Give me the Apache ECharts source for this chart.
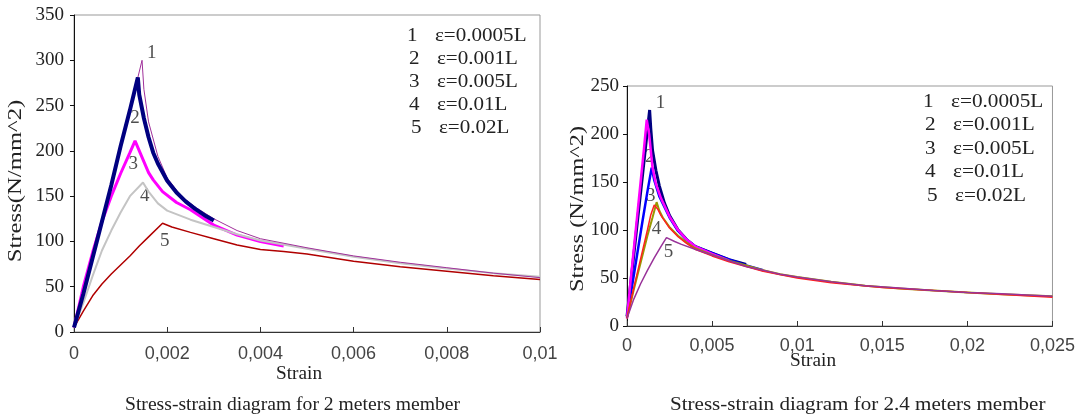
<!DOCTYPE html>
<html><head><meta charset="utf-8">
<script src="https://cdn.jsdelivr.net/npm/echarts@6/dist/echarts.min.js"></script>
<style>html,body{margin:0;padding:0;background:#fff}#c{width:1078px;height:419px}</style>
</head><body><div id="c"></div>
<script>
// ---------- data: left chart (2 m member) ----------
const curveNames = ['1','2','3','4','5'];
const legendLabels = ['ε=0.0005L','ε=0.001L','ε=0.005L','ε=0.01L','ε=0.02L'];
const L1 = [[0,5],[0.0003,62],[0.0006,122],[0.0009,182],[0.0012,245],[0.00146,300],[0.0015,268],[0.0016,232],[0.0018,194],[0.002,170],[0.0023,150],[0.0026,138],[0.003,125],[0.0035,112],[0.004,103],[0.005,93],[0.006,84],[0.007,77],[0.008,71],[0.009,65],[0.01,60]];
const L2 = [[0,5],[0.0002,42],[0.0004,82],[0.0006,122],[0.0008,162],[0.001,205],[0.0012,245],[0.00137,281],[0.0014,262],[0.0015,236],[0.0016,215],[0.0017,198],[0.0018,186],[0.002,167],[0.0022,154],[0.0024,144],[0.0026,136],[0.0028,129],[0.003,123]];
const L3 = [[0,5],[0.0002,50],[0.0004,88],[0.0006,122],[0.0008,150],[0.001,175],[0.0012,198],[0.00131,211],[0.0016,176],[0.0017,168],[0.0019,155],[0.0022,143],[0.0025,135],[0.003,118],[0.0035,107],[0.004,100],[0.0045,95]];
const L4 = [[0,5],[0.0002,32],[0.0004,62],[0.0006,90],[0.0008,112],[0.001,132],[0.0012,150],[0.00148,165],[0.0016,155],[0.0018,142],[0.002,134],[0.0025,124],[0.003,116],[0.0035,108],[0.004,101],[0.005,92],[0.006,83],[0.007,76],[0.008,70],[0.009,65],[0.01,61]];
const L5 = [[0,5],[0.0002,23],[0.0004,40],[0.0006,53],[0.0008,64],[0.001,74],[0.0012,84],[0.0014,95],[0.0016,105],[0.0019,120],[0.0021,116],[0.0025,110],[0.003,103],[0.0035,96],[0.004,91],[0.0045,89],[0.005,86],[0.006,78],[0.007,72],[0.008,67],[0.009,62],[0.01,58]];
const leftLabelPts = [[0.00167,308],[0.00131,236],[0.00127,185],[0.00152,150],[0.00195,101]];

// ---------- data: right chart (2.4 m member) ----------
const R1 = [[0,10],[0.0003,58],[0.0006,107],[0.0009,155],[0.0011,188],[0.00133,225],[0.0014,205],[0.0015,183],[0.0017,162],[0.0019,146],[0.0022,128],[0.0025,115],[0.003,100],[0.0035,90],[0.004,83],[0.005,76],[0.006,69],[0.007,64]];
const R2 = [[0,8],[0.0002,45],[0.0004,80],[0.0006,115],[0.0008,150],[0.001,185],[0.00116,215],[0.0013,200],[0.0015,165],[0.0017,148],[0.002,133],[0.0025,114],[0.003,100],[0.0035,90],[0.004,83],[0.005,75],[0.006,68]];
const R3 = [[0,10],[0.0003,42],[0.0006,75],[0.0009,108],[0.0012,140],[0.00145,165],[0.0016,152],[0.0019,135],[0.0022,124],[0.0025,113],[0.003,99],[0.0035,90],[0.004,83],[0.005,76],[0.006,69],[0.007,63],[0.008,58]];
const R4 = [[0,8],[0.0004,38],[0.0008,66],[0.0012,94],[0.0015,113],[0.00174,129],[0.0019,120],[0.0021,113],[0.0025,103],[0.003,94],[0.0035,87],[0.004,81],[0.005,74],[0.006,68],[0.007,63],[0.008,58],[0.009,54],[0.01,51],[0.012,46],[0.014,42],[0.016,39],[0.018,37],[0.02,35],[0.022,33],[0.025,31]];
const R4b = [[0,8],[0.0004,40],[0.0008,70],[0.0012,100],[0.0014,116],[0.0016,126],[0.0018,122],[0.002,115],[0.0025,102],[0.003,93],[0.0035,86],[0.004,80],[0.005,73],[0.006,67],[0.007,62],[0.008,57],[0.01,50],[0.012,45],[0.015,40],[0.02,35],[0.025,30]];
const R5 = [[0,8],[0.0004,28],[0.0008,44],[0.0012,58],[0.0016,71],[0.002,83],[0.00232,92],[0.0028,88],[0.0032,85],[0.004,80],[0.005,74],[0.006,68],[0.007,62],[0.008,58],[0.009,54],[0.01,51],[0.012,46],[0.014,42],[0.016,39.5],[0.018,37],[0.02,35],[0.022,33.5],[0.025,31]];
const rightLabelPts = [[0.00197,232],[0.00133,176],[0.00139,135],[0.00174,101],[0.00244,77]];

const serif = "'Liberation Serif','Times New Roman',serif";
const sans = "'Liberation Sans',Arial,sans-serif";
const fmtX = v => v === 0 ? '0' : String(+v.toFixed(4)).replace('.', ',');

function xAxis(gi, max, interval, margin) {
  return {type:'value', gridIndex:gi, min:0, max:max, interval:interval,
    axisLine:{onZero:false, lineStyle:{color:'#333', width:1}},
    axisTick:{inside:true, length:5, lineStyle:{color:'#333'}},
    axisLabel:{formatter:fmtX, fontFamily:sans, fontSize:18, color:'#444', margin:margin},
    splitLine:{show:false}};
}
function yAxis(gi, max, margin) {
  return {type:'value', gridIndex:gi, min:0, max:max, interval:50,
    axisLine:{show:true, onZero:false, lineStyle:{color:'#111', width:1}},
    axisTick:{show:true, inside:false, length:4, lineStyle:{color:'#111'}},
    axisLabel:{fontFamily:serif, fontSize:19, color:'#222', margin:margin},
    splitLine:{show:false}};
}
function line(data, xi, color, width, type) {
  return {type:'line', xAxisIndex:xi, yAxisIndex:xi, data:data, showSymbol:false, symbol:'none',
    lineStyle:{color:color, width:width, type:type||'solid'}, silent:true, animation:false};
}
function labels(pts, xi) {
  return {type:'scatter', xAxisIndex:xi, yAxisIndex:xi, symbolSize:0, silent:true, animation:false,
    data: pts.map((p,i)=>({value:p, name:curveNames[i]})),
    label:{show:true, position:'inside', formatter:'{b}', fontFamily:serif, fontSize:19, color:'#222'}};
}
function legendText(x, y0, gap, sx, indent) {
  const out = [];
  legendLabels.forEach((n,i)=>{
    out.push({type:'text', left:x + indent[i], top:y0 + i*gap, scaleX:sx,
      style:{text:curveNames[i], font:'18px ' + serif, fill:'#222'}});
    out.push({type:'text', left:x + 28 + indent[i], top:y0 + i*gap, scaleX:sx,
      style:{text:n, font:'18px ' + serif, fill:'#222'}});
  });
  return out;
}

const chart = echarts.init(document.getElementById('c'), null, {renderer:'canvas'});
chart.setOption({
  animation:false,
  grid:[
    {left:74, top:15, width:466, height:317, show:true, borderColor:'#999', borderWidth:1},
    {left:627, top:86, width:431, height:240, show:true, borderColor:'#999', borderWidth:1}
  ],
  xAxis:[xAxis(0, 0.01, 0.002, 13), xAxis(1, 0.025, 0.005, 11)],
  yAxis:[yAxis(0, 350, 10), yAxis(1, 250, 8)],
  series:[
    line(L5, 0, '#b00000', 1.5),
    line(L3, 0, '#ff00ff', 3),
    line(L4, 0, '#c4c4c4', 2),
    line(L1, 0, '#a0309a', 1),
    line(L2, 0, '#000080', 4),
    labels(leftLabelPts, 0),
    line(R1, 1, '#000080', 3),
    line(R3, 1, '#0000ff', 2.5),
    line(R2, 1, '#ff00ff', 2.5),
    line(R4, 1, '#999900', 2),
    line(R4b, 1, '#ff2020', 1.5),
    line(R5, 1, '#993399', 1.5),
    labels(rightLabelPts, 1)
  ],
  graphic:[
    ...legendText(407, 27, 23, 1.17, [0,2,2,2,4]),
    ...legendText(923, 93, 23.5, 1.18, [0,2,2,2,4]),
    {type:'text', left:276, top:365, scaleX:1.07, style:{text:'Strain', font:'18px ' + serif, fill:'#222'}},
    {type:'text', left:790, top:352, scaleX:1.07, style:{text:'Strain', font:'18px ' + serif, fill:'#222'}},
    {type:'text', left:125, top:396, scaleX:1.09, style:{text:'Stress-strain diagram for 2 meters member', font:'18px ' + serif, fill:'#222'}},
    {type:'text', left:670, top:396, scaleX:1.17, style:{text:'Stress-strain diagram for 2.4 meters member', font:'18px ' + serif, fill:'#222'}},
    {type:'text', x:16, y:181, rotation:Math.PI/2, scaleX:1.3, style:{text:'Stress(N/mm^2)', font:'19px ' + serif, fill:'#222', align:'center', verticalAlign:'middle'}},
    {type:'text', x:578, y:209, rotation:Math.PI/2, scaleX:1.28, style:{text:'Stress (N/mm^2)', font:'19px ' + serif, fill:'#222', align:'center', verticalAlign:'middle'}}
  ]
});
</script></body></html>
